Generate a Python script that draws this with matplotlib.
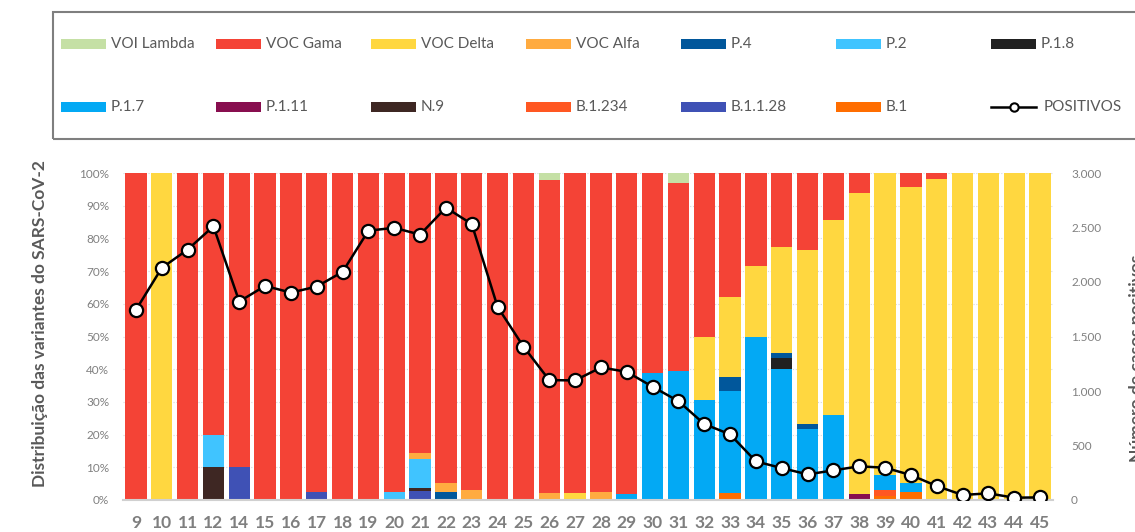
import matplotlib
matplotlib.use("Agg")
import matplotlib.pyplot as plt
from matplotlib.patches import Rectangle
from matplotlib.lines import Line2D
from matplotlib.ticker import FuncFormatter, MultipleLocator
import numpy as np

weeks = ["9", "10", "11", "12", "14", "15", "16", "17", "18", "19", "20", "21", "22", "23",
         "24", "25", "26", "27", "28", "29", "30", "31", "32", "33", "34", "35", "36", "37",
         "38", "39", "40", "41", "42", "43", "44", "45"]

b1 =        [0, 0, 0, 0, 0, 0, 0, 0, 0, 0, 0, 0, 0, 0, 0, 0, 0, 0, 0, 0, 0, 0, 0, 2.0, 0, 0, 0, 0, 0, 1.2, 2.5, 0, 0, 0, 0, 0]
b1128 =     [0, 0, 0, 0, 10, 0, 0, 2.4, 0, 0, 0, 2.7, 0, 0, 0, 0, 0, 0, 0, 0, 0, 0, 0, 0, 0, 0, 0, 0, 0, 0, 0, 0, 0, 0, 0, 0]
b1234 =     [0, 0, 0, 0, 0, 0, 0, 0, 0, 0, 0, 0, 0, 0, 0, 0, 0, 0, 0, 0, 0, 0, 0, 0, 0, 0, 0, 0, 0, 1.9, 0, 0, 0, 0, 0, 0]
n9 =        [0, 0, 0, 10, 0, 0, 0, 0, 0, 0, 0, 1.1, 0, 0, 0, 0, 0, 0, 0, 0, 0, 0, 0, 0, 0, 0, 0, 0, 0, 0, 0, 0, 0, 0, 0, 0]
p111 =      [0, 0, 0, 0, 0, 0, 0, 0, 0, 0, 0, 0, 0, 0, 0, 0, 0, 0, 0, 0, 0, 0, 0, 0, 0, 0, 0, 0, 1.8, 0, 0, 0, 0, 0, 0, 0]
p17 =       [0, 0, 0, 0, 0, 0, 0, 0, 0, 0, 0, 0, 0, 0, 0, 0, 0, 0, 0, 1.9, 38.9, 39.4, 30.7, 31.3, 49.8, 40.0, 21.8, 26.0, 0, 4.5, 2.7, 0, 0, 0, 0, 0]
p18 =       [0, 0, 0, 0, 0, 0, 0, 0, 0, 0, 0, 0, 0, 0, 0, 0, 0, 0, 0, 0, 0, 0, 0, 0, 0, 3.5, 0, 0, 0, 0, 0, 0, 0, 0, 0, 0]
p2 =        [0, 0, 0, 10, 0, 0, 0, 0, 0, 0, 2.5, 8.6, 0, 0, 0, 0, 0, 0, 0, 0, 0, 0, 0, 0, 0, 0, 0, 0, 0, 0, 0, 0, 0, 0, 0, 0]
p4 =        [0, 0, 0, 0, 0, 0, 0, 0, 0, 0, 0, 0, 2.4, 0, 0, 0, 0, 0, 0, 0, 0, 0, 0, 4.3, 0, 1.4, 1.4, 0, 0, 0, 0, 0, 0, 0, 0, 0]
voc_alfa =  [0, 0, 0, 0, 0, 0, 0, 0, 0, 0, 0, 2.0, 2.7, 3.1, 0, 0, 2.0, 0, 2.4, 0, 0, 0, 0, 0, 0, 0, 0, 0, 0, 0, 0, 0, 0, 0, 0, 0]
voc_delta = [0, 100, 0, 0, 0, 0, 0, 0, 0, 0, 0, 0, 0, 0, 0, 0, 0, 2.0, 0, 0, 0, 0, 19.1, 24.5, 21.8, 32.4, 53.4, 59.6, 92.0, 92.4, 90.6, 98.3, 100, 100, 100, 100]
voc_gama =  [100, 0, 100, 80, 90, 100, 100, 97.6, 100, 100, 97.5, 85.6, 94.9, 96.9, 100, 100, 95.8, 98.0, 97.6, 98.1, 61.1, 57.5, 50.2, 37.9, 28.4, 22.7, 23.4, 14.4, 6.2, 0, 4.2, 1.7, 0, 0, 0, 0]
voi_lambda = [0, 0, 0, 0, 0, 0, 0, 0, 0, 0, 0, 0, 0, 0, 0, 0, 2.2, 0, 0, 0, 0, 3.1, 0, 0, 0, 0, 0, 0, 0, 0, 0, 0, 0, 0, 0, 0]

positivos = [1744, 2129, 2297, 2511, 1821, 1964, 1903, 1958, 2093, 2471, 2497, 2435, 2682, 2532,
             1772, 1408, 1100, 1097, 1216, 1176, 1039, 907, 697, 602, 354, 293, 235, 272,
             309, 296, 229, 128, 46, 61, 21, 24]

# stacking order bottom -> top
series_names = ["B.1", "B.1.1.28", "B.1.234", "N.9", "P.1.11", "P.1.7", "P.1.8", "P.2", "P.4",
                "VOC Alfa", "VOC Delta", "VOC Gama", "VOI Lambda"]
series_values = [b1, b1128, b1234, n9, p111, p17, p18, p2, p4, voc_alfa, voc_delta, voc_gama, voi_lambda]
series_colors = ["#FF6D00", "#3F51B5", "#FF5722", "#3E2723", "#880E4F", "#03A9F4", "#212121",
                 "#40C4FF", "#01579B", "#FFAB40", "#FFD740", "#F44336", "#C5E0A5"]

FONT = ["Lato", "DejaVu Sans"]
plt.rcParams["font.family"] = FONT

W, H = 1135, 532
fig = plt.figure(figsize=(W / 100, H / 100), dpi=100)
ax = fig.add_axes([123 / W, 1 - 500 / H, (1053 - 123) / W, (500 - 173) / H])

x = np.arange(len(weeks))
bottom = np.zeros(len(weeks))
for name, vals, col in zip(series_names, series_values, series_colors):
    v = np.array(vals, dtype=float)
    ax.bar(x, v, bottom=bottom, width=0.83, color=col, linewidth=0, zorder=2)
    bottom += v

ax.set_xlim(-0.5, len(weeks) - 0.5)
ax.set_ylim(0, 100)
ax.yaxis.set_major_locator(MultipleLocator(10))
ax.yaxis.set_major_formatter(FuncFormatter(lambda v, p: f"{int(round(v))}%"))
ax.grid(axis="y", color="#d9d9d9", linestyle=(0, (1, 1.5)), linewidth=0.8, zorder=0)
ax.set_axisbelow(True)
for s in ["top", "right", "left"]:
    ax.spines[s].set_visible(False)
ax.spines["bottom"].set_color("#d0d0d0")
ax.spines["bottom"].set_linewidth(1.5)
ax.spines["bottom"].set_zorder(3)
ax.tick_params(axis="y", length=0, pad=10, labelsize=8.5, labelcolor="#808080")
ax.tick_params(axis="x", length=0, pad=11, labelsize=12.5, labelcolor="#7f7f7f")
ax.set_xticks(x)
ax.set_xticklabels(weeks, fontweight="bold")

ax2 = ax.twinx()
ax2.set_ylim(0, 3000)
ax2.yaxis.set_major_locator(MultipleLocator(500))
ax2.yaxis.set_major_formatter(FuncFormatter(lambda v, p: f"{int(v):,}".replace(",", ".")))
for s in ["top", "right", "left", "bottom"]:
    ax2.spines[s].set_visible(False)
ax2.tick_params(axis="y", length=0, pad=13, labelsize=8.5, labelcolor="#808080")
ax2.plot(x, positivos, color="black", linewidth=1.8, marker="o", markersize=9.5,
         markerfacecolor="white", markeredgecolor="black", markeredgewidth=1.6, zorder=5)

# axis titles
fig.text(40 / W, 1 - 324 / H, "Distribuição das variantes do SARS-CoV-2", rotation=90,
         ha="center", va="center", fontsize=12.5, fontweight="bold", color="#595959")
fig.text(1129 / W, 1 - 358 / H, "Número de casos positivos", rotation=90,
         ha="left", va="center", fontsize=12.5, fontweight="bold", color="#595959")

# legend box
fig.patches.append(Rectangle((53 / W, 1 - 139 / H), 1200 / W, 127 / H, transform=fig.transFigure,
                             facecolor="none", edgecolor="#7f7f7f", linewidth=1.5, clip_on=False))

legend_names = series_names[::-1] + ["POSITIVOS"]
legend_colors = series_colors[::-1] + [None]
col_x0 = 61
col_step = 155
row_y = [44, 107]
for i, (name, col) in enumerate(zip(legend_names, legend_colors)):
    r, c = divmod(i, 7)
    px = col_x0 + c * col_step
    py = row_y[r]
    if col is not None:
        fig.patches.append(Rectangle((px / W, 1 - (py + 5) / H), 45 / W, 10 / H,
                                     transform=fig.transFigure, facecolor=col, edgecolor="none"))
        tx = px + 50
    else:
        fig.lines.append(Line2D([px / W, (px + 45) / W], [1 - py / H, 1 - py / H],
                                transform=fig.transFigure, color="black", linewidth=1.8))
        fig.lines.append(Line2D([(px + 22.5) / W], [1 - py / H], transform=fig.transFigure,
                                marker="o", markersize=6, markerfacecolor="white",
                                markeredgecolor="black", markeredgewidth=1.5))
        tx = px + 53
    fig.text(tx / W, 1 - py / H, name, ha="left", va="center", fontsize=11, color="#595959")

fig.savefig("out.png", dpi=100)
